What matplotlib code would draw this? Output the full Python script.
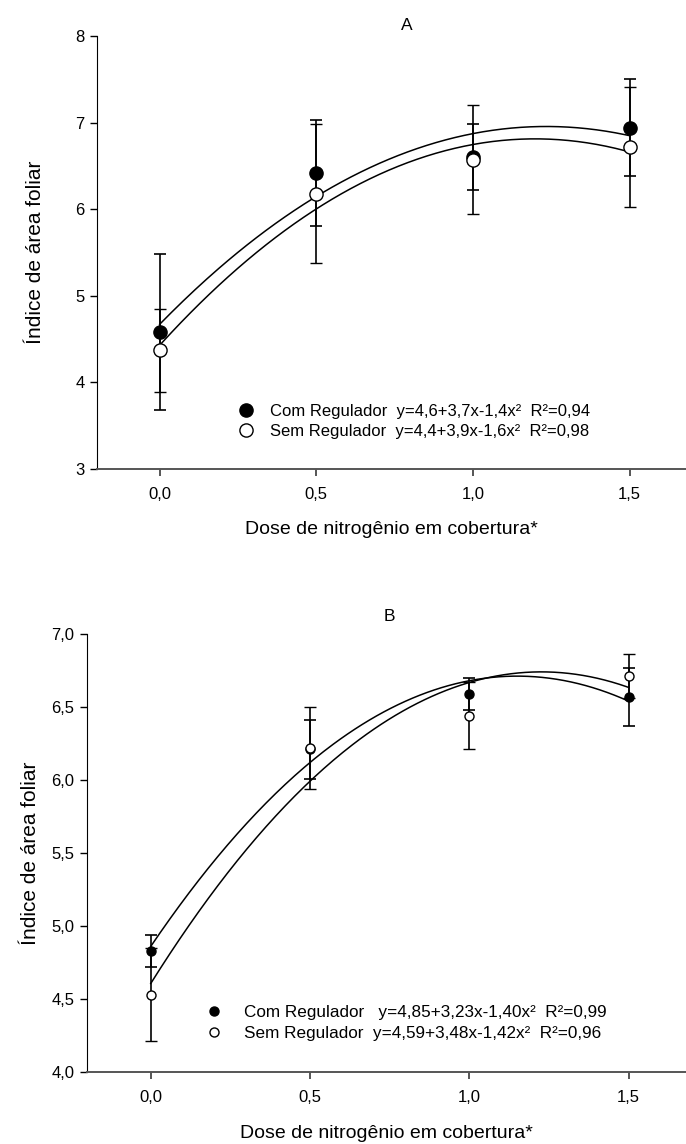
import numpy as np
from matplotlib import pyplot as plt

plt.rcParams["font.family"] = ["Liberation Sans", "DejaVu Sans"]
plt.rcParams["font.size"] = 12

dose = [0.0, 0.5, 1.0, 1.5]
doses_lbl = ["0,0", "0,5", "1,0", "1,5"]

# painel A
com_a = [4.58, 6.42, 6.60, 6.94]
com_a_err = [0.90, 0.61, 0.38, 0.56]
sem_a = [4.37, 6.18, 6.57, 6.72]
sem_a_err = [0.48, 0.80, 0.63, 0.69]
leg_a = ["Com Regulador  y=4,6+3,7x-1,4x²  R²=0,94",
         "Sem Regulador  y=4,4+3,9x-1,6x²  R²=0,98"]
yt_a = [3, 4, 5, 6, 7, 8]

# painel B
com_b = [4.83, 6.21, 6.59, 6.57]
com_b_err = [0.11, 0.20, 0.11, 0.20]
sem_b = [4.53, 6.22, 6.44, 6.71]
sem_b_err = [0.32, 0.28, 0.23, 0.15]
leg_b = ["Com Regulador   y=4,85+3,23x-1,40x²  R²=0,99",
         "Sem Regulador  y=4,59+3,48x-1,42x²  R²=0,96"]
yt_b = [4.0, 4.5, 5.0, 5.5, 6.0, 6.5, 7.0]

W, H = 686, 1144
fig = plt.figure(figsize=(W / 100, H / 100), dpi=100)


def painel(rect, com, com_err, sem, sem_err, legenda, yticks, ms, titulo, tx, ty, ylab_x, leg_pos, tpad, lfs):
    l, t, r, b = rect
    ax = fig.add_axes([l / W, 1 - b / H, (r - l) / W, (b - t) / H])
    xs = np.linspace(0, 1.5, 200)
    for ys in (com, sem):
        c = np.polyfit(dose, ys, 2)
        ax.plot(xs, np.polyval(c, xs), color="black", lw=1.1, zorder=2)
    h1 = ax.errorbar(dose, com, yerr=com_err, fmt="o", color="black", mfc="black", mec="black",
                     ms=ms, capsize=4.3, elinewidth=1.2, capthick=1.2, zorder=3)
    h2 = ax.errorbar(dose, sem, yerr=sem_err, fmt="o", color="black", mfc="white", mec="black",
                     ms=ms, mew=1.0, capsize=4.3, elinewidth=1.2, capthick=1.2, zorder=4)
    ax.set_xlim(-0.2, 1.68)
    ax.set_ylim(yticks[0], yticks[-1])
    ax.set_xticks(dose)
    ax.set_xticklabels(doses_lbl)
    ax.set_yticks(yticks)
    if isinstance(yticks[0], float):
        ax.set_yticklabels([("%.1f" % v).replace(".", ",") for v in yticks])
    ax.spines["top"].set_visible(False)
    ax.spines["right"].set_visible(False)
    ax.spines["bottom"].set_color("#555555")
    ax.spines["bottom"].set_linewidth(1.4)
    ax.tick_params(axis="x", colors="#555555", labelcolor="black", length=5, width=1.4, pad=8)
    ax.tick_params(axis="y", length=5, width=1, pad=4)
    ax.set_xlabel("Dose de nitrogênio em cobertura*", fontsize=14, labelpad=14)
    ax.set_ylabel("Índice de área foliar", fontsize=15)
    ax.yaxis.set_label_coords(ylab_x, 0.5)
    ax.text(tx, ty, titulo, transform=ax.get_xaxis_transform(), ha="center", va="center", fontsize=12.5)
    ax.legend([h1[0], h2[0]], legenda, loc="center left", bbox_to_anchor=leg_pos, frameon=False,
              fontsize=lfs, handlelength=1.0, handletextpad=tpad, labelspacing=0.3, borderpad=0)
    return ax


painel((97, 36, 686, 469), com_a, com_a_err, sem_a, sem_a_err, leg_a, yt_a, 9.5,
       "A", 0.79, 1.025, -0.088, (0.225, 0.11), 0.95, 12)
painel((87, 634, 686, 1072), com_b, com_b_err, sem_b, sem_b_err, leg_b, yt_b, 6.5,
       "B", 0.75, 1.039, -0.078, (0.183, 0.112), 1.25, 12.3)

plt.savefig("out.png", dpi=100)
